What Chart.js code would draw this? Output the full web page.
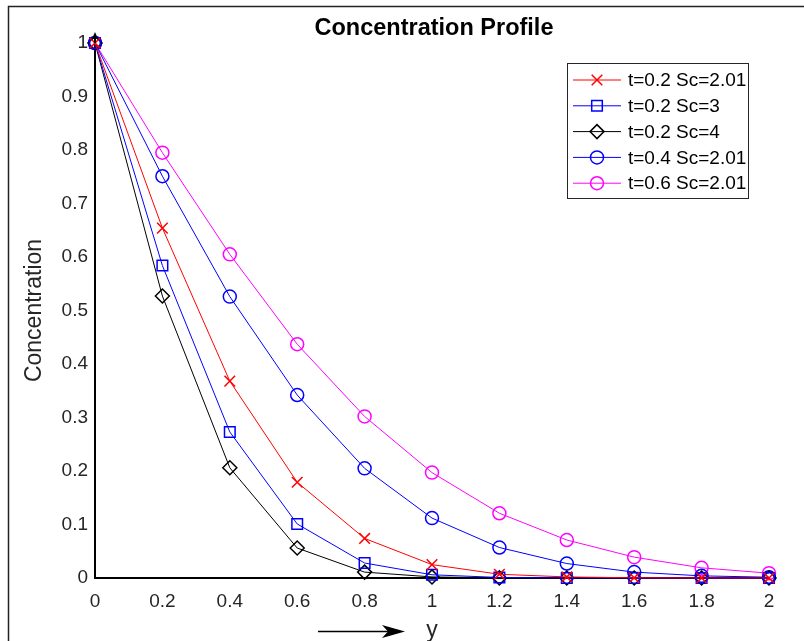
<!DOCTYPE html>
<html><head><meta charset="utf-8">
<script src="https://cdn.jsdelivr.net/npm/chart.js@4/dist/chart.umd.min.js"></script>
<style>html,body{margin:0;padding:0;background:#fff;} canvas{display:block}</style>
</head><body>
<canvas id="c" width="804" height="641"></canvas>
<script>
// ---- data ----
const xValues = [0, 0.2, 0.4, 0.6, 0.8, 1.0, 1.2, 1.4, 1.6, 1.8, 2.0];
const seriesLabels = ['t=0.2 Sc=2.01', 't=0.2 Sc=3', 't=0.2 Sc=4', 't=0.4 Sc=2.01', 't=0.6 Sc=2.01'];
const t02Sc201 = [1, 0.654, 0.368, 0.179, 0.074, 0.025, 0.007, 0.002, 0.0004, 0.0001, 0];
const t02Sc3   = [1, 0.584, 0.273, 0.101, 0.028, 0.006, 0.001, 0.0001, 0, 0, 0];
const t02Sc4   = [1, 0.527, 0.206, 0.056, 0.011, 0.002, 0.0002, 0, 0, 0, 0];
const t04Sc201 = [1, 0.751, 0.526, 0.342, 0.205, 0.112, 0.057, 0.027, 0.011, 0.004, 0.0015];
const t06Sc201 = [1, 0.795, 0.605, 0.437, 0.302, 0.197, 0.121, 0.071, 0.039, 0.019, 0.009];
const xTicks = [0, 0.2, 0.4, 0.6, 0.8, 1, 1.2, 1.4, 1.6, 1.8, 2];
const xTickLabels = ['0', '0.2', '0.4', '0.6', '0.8', '1', '1.2', '1.4', '1.6', '1.8', '2'];
const yTicks = [0, 0.1, 0.2, 0.3, 0.4, 0.5, 0.6, 0.7, 0.8, 0.9, 1];
const yTickLabels = ['0', '0.1', '0.2', '0.3', '0.4', '0.5', '0.6', '0.7', '0.8', '0.9', '1'];
const titleText = 'Concentration Profile';
const xTitle = 'y';
const yTitle = 'Concentration';

const FONT = '"Liberation Sans", Arial, Helvetica, sans-serif';
const styles = [
  {color: '#ff0000', pointStyle: 'crossRot', radius: 7.5},
  {color: '#0000ff', pointStyle: 'rect', radius: 7.5},
  {color: '#000000', pointStyle: 'rectRot', radius: 7},
  {color: '#0000ff', pointStyle: 'circle', radius: 6.5},
  {color: '#ff00ff', pointStyle: 'circle', radius: 6.5}
];
const seriesValues = [t02Sc201, t02Sc3, t02Sc4, t04Sc201, t06Sc201];

const datasets = seriesValues.map((vals, i) => ({
  label: seriesLabels[i],
  data: xValues.map((x, j) => ({x: x, y: vals[j]})),
  borderColor: styles[i].color,
  borderWidth: 1,
  pointStyle: styles[i].pointStyle,
  pointRadius: styles[i].radius,
  pointHoverRadius: styles[i].radius,
  pointBorderColor: styles[i].color,
  pointBackgroundColor: 'rgba(0,0,0,0)',
  pointBorderWidth: 1.5,
  tension: 0,
  fill: false,
  clip: false
}));

const decor = {
  id: 'decor',
  afterDraw(chart) {
    const ctx = chart.ctx;
    const area = chart.chartArea;
    ctx.save();
    // outer frame (left & top)
    ctx.strokeStyle = '#222';
    ctx.lineWidth = 1.5;
    ctx.beginPath();
    ctx.moveTo(8.5, 641); ctx.lineTo(8.5, 6.5); ctx.lineTo(804, 6.5);
    ctx.stroke();
    // title
    ctx.fillStyle = '#000';
    ctx.font = 'bold 23.5px ' + FONT;
    ctx.textAlign = 'center';
    ctx.textBaseline = 'alphabetic';
    ctx.fillText(titleText, (area.left + area.right) / 2 + 2, 35);
    // y-axis arrow cap
    const xa = area.left;
    ctx.strokeStyle = '#000';
    ctx.lineWidth = 2;
    ctx.beginPath(); ctx.moveTo(xa, area.top); ctx.lineTo(xa, 37); ctx.stroke();
    ctx.fillStyle = '#000';
    ctx.beginPath();
    ctx.moveTo(xa, 32); ctx.lineTo(xa + 3.5, 40); ctx.lineTo(xa, 38); ctx.lineTo(xa - 3.5, 40);
    ctx.closePath(); ctx.fill();
    // x-title arrow
    const ay = 631.5;
    ctx.lineWidth = 1.5;
    ctx.beginPath(); ctx.moveTo(318, ay); ctx.lineTo(390, ay); ctx.stroke();
    ctx.beginPath();
    ctx.moveTo(405, ay); ctx.lineTo(382, ay - 6.5); ctx.lineTo(388, ay); ctx.lineTo(382, ay + 6.5);
    ctx.closePath(); ctx.fill();
    // legend
    const bx = 567.5, by = 63.5, bw = 181, bh = 135;
    ctx.fillStyle = '#fff';
    ctx.fillRect(bx, by, bw, bh);
    ctx.strokeStyle = '#262626';
    ctx.lineWidth = 1;
    ctx.strokeRect(bx, by, bw, bh);
    ctx.font = '19px ' + FONT;
    ctx.textAlign = 'left';
    ctx.textBaseline = 'middle';
    chart.data.datasets.forEach((ds, i) => {
      const yy = 80 + i * 25.8;
      ctx.strokeStyle = ds.borderColor;
      ctx.lineWidth = 1;
      ctx.beginPath(); ctx.moveTo(573, yy); ctx.lineTo(621, yy); ctx.stroke();
      ctx.lineWidth = 1.5;
      ctx.fillStyle = 'rgba(0,0,0,0)';
      Chart.helpers.drawPoint(ctx, {pointStyle: ds.pointStyle, radius: ds.pointRadius, rotation: 0, borderWidth: 1.5}, 597, yy);
      ctx.fillStyle = '#000';
      ctx.fillText(ds.label, 628, yy + 1);
    });
    ctx.restore();
  }
};

new Chart(document.getElementById('c'), {
  type: 'line',
  data: {datasets: datasets},
  options: {
    responsive: false,
    devicePixelRatio: 1,
    animation: false,
    events: [],
    layout: {padding: {top: 43, right: 35, left: 0, bottom: 0}},
    plugins: {legend: {display: false}, title: {display: false}, tooltip: {enabled: false}},
    scales: {
      x: {
        type: 'linear', min: 0, max: 2,
        afterBuildTicks: s => { s.ticks = xTicks.map(v => ({value: v})); },
        afterFit: s => { s.height = 63; },
        grid: {display: false, drawTicks: false},
        border: {display: true, color: '#000', width: 2},
        ticks: {color: '#262626', padding: 12, maxRotation: 0, autoSkip: false,
                font: {family: FONT, size: 19}, callback: (v, i) => xTickLabels[i]},
        title: {display: true, text: xTitle, color: '#262626', padding: {top: 0, bottom: 0},
                font: {family: FONT, size: 23, lineHeight: 0.9}}
      },
      y: {
        type: 'linear', min: 0, max: 1,
        afterBuildTicks: s => { s.ticks = yTicks.map(v => ({value: v})); },
        afterFit: s => { s.width = 95; },
        grid: {display: false, drawTicks: false},
        border: {display: true, color: '#000', width: 2},
        ticks: {color: '#262626', padding: 7, autoSkip: false,
                font: {family: FONT, size: 19}, callback: (v, i) => yTickLabels[i]},
        title: {display: true, text: yTitle, color: '#262626', padding: {top: 21, bottom: 0},
                font: {family: FONT, size: 23, lineHeight: 1.2}}
      }
    }
  },
  plugins: [decor]
});
</script>
</body></html>
